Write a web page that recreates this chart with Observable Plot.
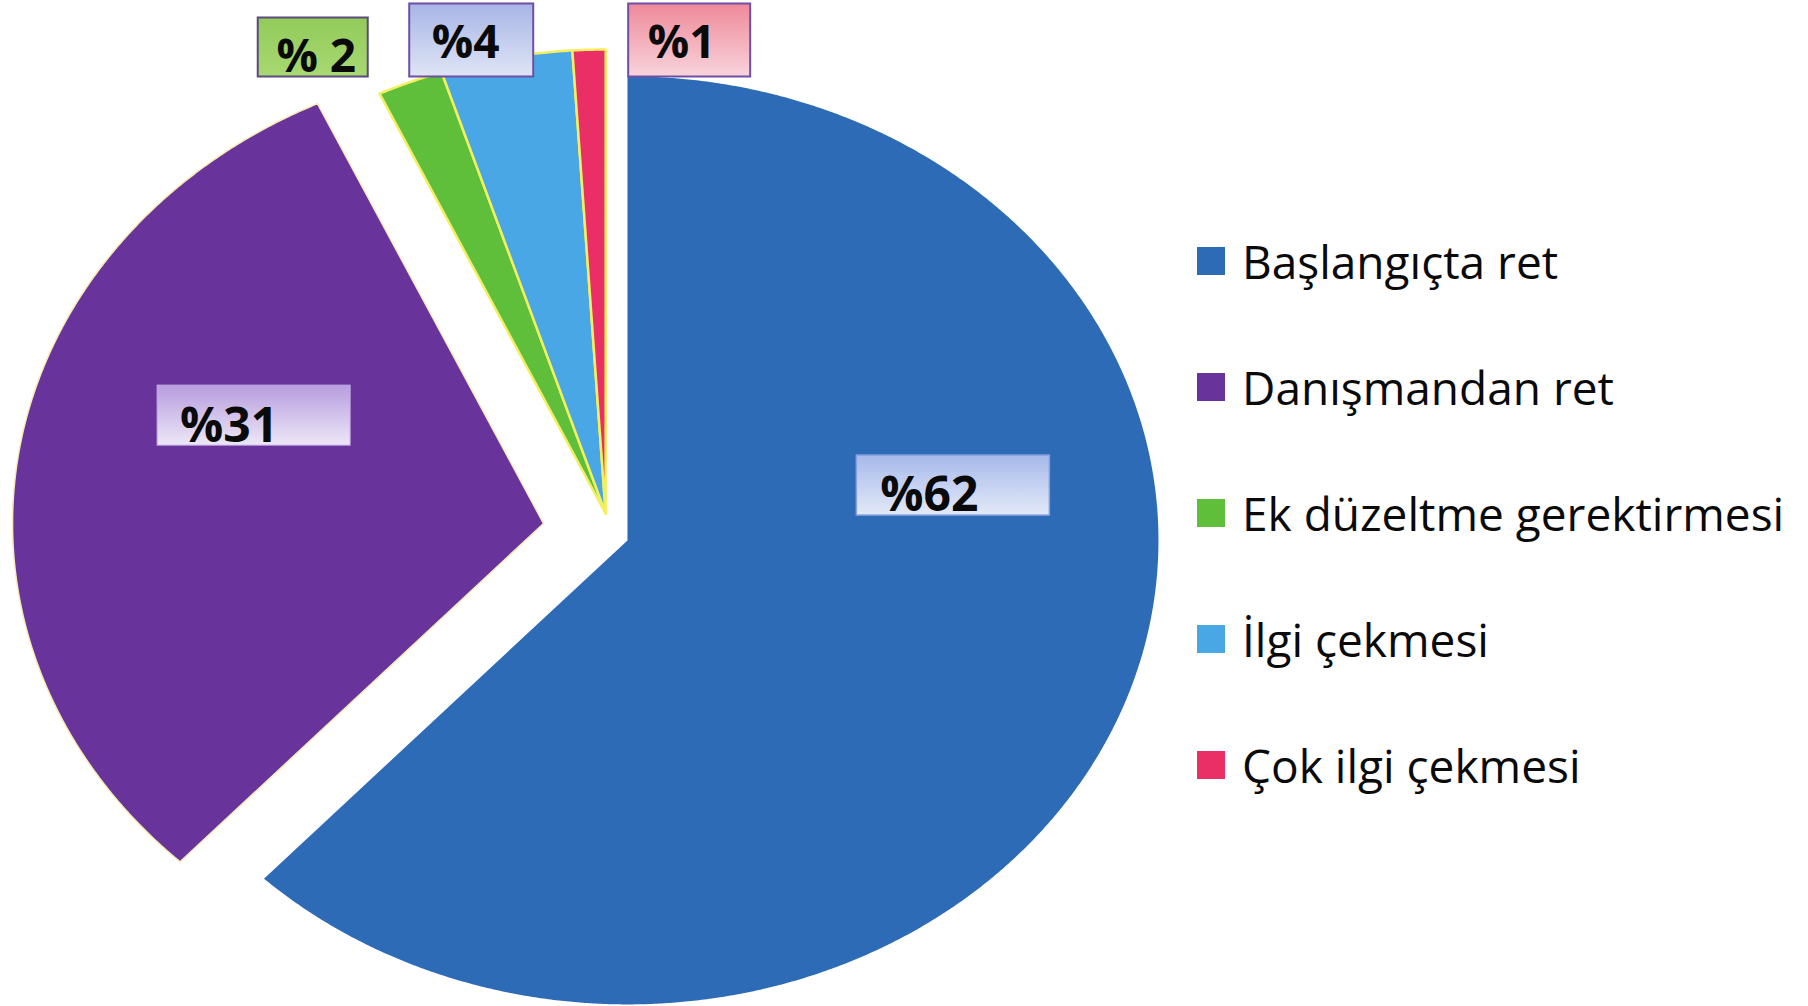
<!DOCTYPE html>
<html><head><meta charset="utf-8">
<script src="https://cdn.jsdelivr.net/npm/d3@7"></script>
<script src="https://cdn.jsdelivr.net/npm/@observablehq/plot@0.6"></script>
<style>
html,body{margin:0;padding:0;background:#fff;}
#wrap{display:flex;flex-direction:row;width:1808px;height:1006px;overflow:hidden;}
#chart svg{display:block;}
#legend{padding-left:17px;padding-top:198px;}
.lg-swatches{font-family:"Open Sans",sans-serif !important;font-size:46px !important;color:#0a0a0a;margin:0 !important;}
.lg-swatch{height:126px;padding:0 !important;}
.lg-swatch > svg{margin-right:17px !important;}
.lg-swatch-label{overflow:visible !important;}
</style></head><body>
<div id="wrap"><div id="chart"></div><div id="legend"></div></div>
<script>
// ---- data ----
const categories = ["Başlangıçta ret", "Danışmandan ret", "Ek düzeltme gerektirmesi", "İlgi çekmesi", "Çok ilgi çekmesi"];
const percents = [62, 31, 2, 4, 1];
const labelTexts = ["%62", "%31", "% 2", "%4", "%1"];
const colors = ["#2e6bb6", "#68339a", "#5fbf3b", "#48a7e4", "#e92f66"];

// ---- styling / layout config ----
const W = 1180, H = 1006;
const xDomain = [-1.1337, 1.0885];
const yDomain = [-1.0625, 1.1056];
const kx = W / (xDomain[1] - xDomain[0]);
const ky = H / (yDomain[1] - yDomain[0]);
// explode offsets of each slice (data units; y up)
const explode = [[0.047, -0.058], [-0.111, -0.0216], [0.006, 0], [0.006, 0], [0.006, 0]];
const sliceStroke = ["none", "#f7ebb5", "#f2f060", "#f2f060", "#f2f060"];
const sliceStrokeWidth = [0, 1.5, 2.5, 2.5, 2.5];
// label placement: angle (deg, clockwise from north) and radius, relative to slice centre
const labelAngle = [79.1, 293.1, 331.26, 346.1, 8.82];
const labelRadius = [0.625, 0.5926, 1.1454, 1.0502, 1.0316];
const boxW = [193, 193, 110, 124, 122];
const boxH = [60, 60, 59, 73, 73];
const textDx = [-24, -25, 3, -6, -8];
const textDy = [10, 11, 10, 3, 3];
const textSize = [48, 48, 46, 46, 46];
const boxTop = ["#a6b9ea", "#b79ddf", "#92cb5a", "#a7b5e6", "#ee8999"];
const boxBottom = ["#e3e9f8", "#ede7f6", "#a8d872", "#dfe5f5", "#f8d4dc"];
const boxBorder = ["#8aa0dc", "#c2aee6", "#5b4b7d", "#6f4ea5", "#6f4ea5"];
const boxBorderW = [1.5, 1, 2, 2, 2];

// ---- geometry from data ----
const arcs = d3.pie().sort(null).value(d => d)(percents);
const rows = [];
arcs.forEach((a, i) => {
  const [ox, oy] = explode[i];
  rows.push({i, cat: categories[i], x: ox, y: oy});
  const n = Math.max(4, Math.ceil((a.endAngle - a.startAngle) / 0.005));
  for (let k = 0; k <= n; k++) {
    const t = a.startAngle + (a.endAngle - a.startAngle) * k / n;
    rows.push({i, cat: categories[i], x: ox + Math.sin(t), y: oy + Math.cos(t)});
  }
});

const labels = labelTexts.map((t, i) => {
  const th = labelAngle[i] * Math.PI / 180;
  const ax = explode[i][0] + labelRadius[i] * Math.sin(th);
  const ay = explode[i][1] + labelRadius[i] * Math.cos(th);
  return {i, t, ax, ay,
    x1: ax - boxW[i] / 2 / kx, x2: ax + boxW[i] / 2 / kx,
    y1: ay - boxH[i] / 2 / ky, y2: ay + boxH[i] / 2 / ky};
});

const sliceMarks = categories.map((c, i) =>
  Plot.line(rows.filter(r => r.i === i), {
    x: "x", y: "y", z: "cat", fill: "cat", curve: "linear-closed",
    stroke: sliceStroke[i], strokeWidth: sliceStrokeWidth[i], strokeLinejoin: "round"
  })
);
const labelMarks = labels.map(l => [
  Plot.rect([l], {x1: "x1", x2: "x2", y1: "y1", y2: "y2", fill: `url(#lg${l.i})`,
    stroke: boxBorder[l.i], strokeWidth: boxBorderW[l.i]}),
  Plot.text([l], {x: "ax", y: "ay", text: "t", dx: textDx[l.i], dy: textDy[l.i],
    fontSize: textSize[l.i], fontWeight: "bold", fontFamily: "Open Sans, sans-serif", fill: "#0a0a0a"})
]);

const svg = Plot.plot({
  width: W, height: H,
  margin: 0,
  x: {domain: xDomain, axis: null},
  y: {domain: yDomain, axis: null},
  color: {domain: categories, range: colors},
  style: {background: "#fff"},
  marks: [...sliceMarks, ...labelMarks]
});
const defs = d3.create("svg:defs");
labels.forEach(l => {
  const g = defs.append("linearGradient").attr("id", `lg${l.i}`)
    .attr("x1", 0).attr("y1", 0).attr("x2", 0).attr("y2", 1);
  g.append("stop").attr("offset", "0%").attr("stop-color", boxTop[l.i]);
  g.append("stop").attr("offset", "100%").attr("stop-color", boxBottom[l.i]);
});
svg.insertBefore(defs.node(), svg.firstChild);
document.getElementById("chart").appendChild(svg);

const leg = Plot.legend({
  color: {domain: categories, range: colors},
  legend: "swatches", columns: 1, swatchSize: 28, className: "lg"
});
document.getElementById("legend").appendChild(leg);
</script>
</body></html>
